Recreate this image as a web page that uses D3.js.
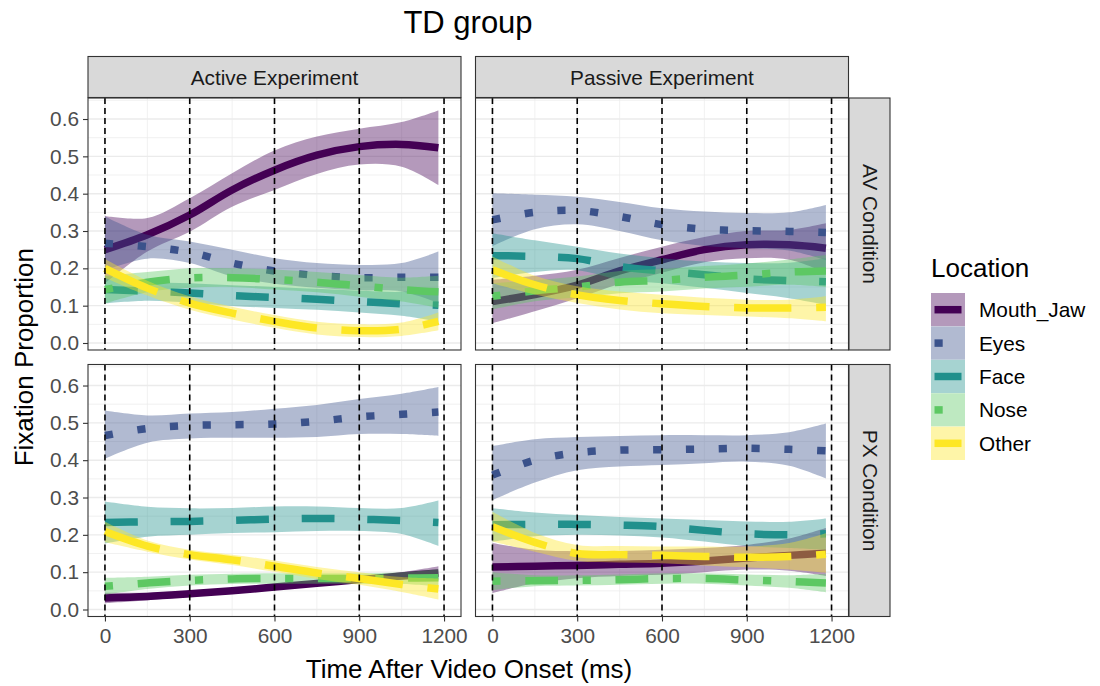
<!DOCTYPE html>
<html>
<head>
<meta charset="utf-8">
<script src="https://cdn.jsdelivr.net/npm/d3@7"></script>
<style>
  body { margin: 0; background: #fff; }
  text { font-family: "Liberation Sans", Arial, sans-serif; }
</style>
</head>
<body>
<div id="chart"></div>
<script>
// time points the smooths were read at (ms)
var times = [0, 150, 300, 450, 600, 750, 900, 1050, 1180];
var locations = ["Mouth_Jaw", "Eyes", "Face", "Nose", "Other"];
var experiments = ["Active Experiment", "Passive Experiment"];
var conditions = ["AV Condition", "PX Condition"];
var locColors = ["#440154", "#3B528B", "#21908C", "#5DC863", "#FDE725"];
var locDash = ["solid", "dotted", "dashed", "dotdash", "longdash"];
var xTicks = [0, 300, 600, 900, 1200];
var yTicks = [0, 0.1, 0.2, 0.3, 0.4, 0.5, 0.6];
var vlineTimes = [0, 300, 600, 900, 1200];

// rows follow `locations`
var fitAVActive = [
  [0.25, 0.29, 0.343, 0.41, 0.463, 0.503, 0.526, 0.532, 0.523],
  [0.267, 0.258, 0.243, 0.214, 0.193, 0.181, 0.175, 0.176, 0.176],
  [0.143, 0.139, 0.134, 0.127, 0.122, 0.117, 0.111, 0.105, 0.101],
  [0.143, 0.163, 0.174, 0.175, 0.17, 0.163, 0.153, 0.143, 0.137],
  [0.2, 0.147, 0.107, 0.08, 0.058, 0.04, 0.033, 0.037, 0.058]
];
var loAVActive = [
  [0.16, 0.245, 0.298, 0.365, 0.41, 0.453, 0.478, 0.472, 0.423],
  [0.195, 0.226, 0.214, 0.178, 0.159, 0.148, 0.141, 0.138, 0.107],
  [0.106, 0.113, 0.108, 0.099, 0.094, 0.089, 0.082, 0.073, 0.057],
  [0.106, 0.136, 0.148, 0.15, 0.143, 0.136, 0.124, 0.111, 0.094],
  [0.175, 0.127, 0.089, 0.063, 0.041, 0.023, 0.016, 0.019, 0.034]
];
var hiAVActive = [
  [0.34, 0.335, 0.388, 0.455, 0.516, 0.553, 0.574, 0.592, 0.623],
  [0.339, 0.29, 0.272, 0.25, 0.227, 0.214, 0.209, 0.214, 0.245],
  [0.18, 0.165, 0.16, 0.155, 0.15, 0.145, 0.14, 0.137, 0.145],
  [0.18, 0.19, 0.2, 0.2, 0.197, 0.19, 0.182, 0.175, 0.18],
  [0.225, 0.167, 0.125, 0.097, 0.075, 0.057, 0.05, 0.055, 0.082]
];

var fitAVPassive = [
  [0.111, 0.13, 0.155, 0.193, 0.223, 0.25, 0.263, 0.263, 0.254],
  [0.33, 0.35, 0.355, 0.339, 0.317, 0.305, 0.301, 0.299, 0.296],
  [0.234, 0.232, 0.226, 0.205, 0.193, 0.183, 0.172, 0.167, 0.164],
  [0.125, 0.14, 0.15, 0.163, 0.168, 0.176, 0.182, 0.19, 0.193],
  [0.196, 0.156, 0.129, 0.114, 0.105, 0.098, 0.094, 0.094, 0.096]
];
var loAVPassive = [
  [0.053, 0.085, 0.12, 0.158, 0.188, 0.216, 0.227, 0.223, 0.188],
  [0.26, 0.305, 0.318, 0.3, 0.275, 0.26, 0.254, 0.248, 0.222],
  [0.174, 0.19, 0.195, 0.17, 0.16, 0.148, 0.134, 0.12, 0.102],
  [0.09, 0.112, 0.122, 0.133, 0.138, 0.146, 0.151, 0.156, 0.15],
  [0.16, 0.13, 0.107, 0.09, 0.08, 0.075, 0.071, 0.066, 0.058]
];
var hiAVPassive = [
  [0.169, 0.18, 0.196, 0.228, 0.258, 0.284, 0.3, 0.303, 0.321],
  [0.401, 0.397, 0.392, 0.378, 0.361, 0.352, 0.348, 0.35, 0.37],
  [0.294, 0.275, 0.258, 0.24, 0.227, 0.218, 0.214, 0.215, 0.227],
  [0.16, 0.168, 0.178, 0.193, 0.198, 0.206, 0.213, 0.224, 0.236],
  [0.232, 0.18, 0.152, 0.138, 0.129, 0.121, 0.116, 0.116, 0.125]
];

var fitPXActive = [
  [0.031, 0.035, 0.042, 0.05, 0.06, 0.07, 0.08, 0.09, 0.098],
  [0.466, 0.485, 0.493, 0.495, 0.497, 0.504, 0.516, 0.523, 0.529],
  [0.233, 0.235, 0.236, 0.239, 0.242, 0.244, 0.242, 0.238, 0.233],
  [0.062, 0.071, 0.078, 0.082, 0.083, 0.083, 0.083, 0.084, 0.085],
  [0.209, 0.17, 0.147, 0.133, 0.116, 0.098, 0.083, 0.067, 0.055]
];
var loPXActive = [
  [0.017, 0.025, 0.034, 0.042, 0.052, 0.062, 0.072, 0.08, 0.08],
  [0.404, 0.447, 0.458, 0.46, 0.46, 0.462, 0.47, 0.47, 0.465],
  [0.177, 0.195, 0.2, 0.205, 0.207, 0.21, 0.21, 0.202, 0.17],
  [0.04, 0.055, 0.064, 0.068, 0.069, 0.069, 0.069, 0.068, 0.062],
  [0.18, 0.155, 0.134, 0.119, 0.101, 0.082, 0.066, 0.047, 0.027]
];
var hiPXActive = [
  [0.045, 0.045, 0.05, 0.058, 0.068, 0.078, 0.088, 0.1, 0.116],
  [0.533, 0.52, 0.525, 0.529, 0.538, 0.548, 0.564, 0.578, 0.596],
  [0.289, 0.275, 0.271, 0.272, 0.276, 0.276, 0.272, 0.272, 0.292],
  [0.085, 0.088, 0.093, 0.096, 0.097, 0.097, 0.097, 0.1, 0.108],
  [0.235, 0.185, 0.16, 0.147, 0.131, 0.114, 0.1, 0.087, 0.083]
];

var fitPXPassive = [
  [0.114, 0.116, 0.118, 0.121, 0.124, 0.13, 0.138, 0.145, 0.151],
  [0.36, 0.4, 0.42, 0.427, 0.428, 0.43, 0.432, 0.429, 0.425],
  [0.227, 0.228, 0.228, 0.226, 0.222, 0.212, 0.203, 0.2, 0.203],
  [0.076, 0.077, 0.078, 0.08, 0.083, 0.083, 0.079, 0.075, 0.071],
  [0.222, 0.18, 0.15, 0.147, 0.145, 0.142, 0.14, 0.142, 0.148]
];
var loPXPassive = [
  [0.044, 0.07, 0.084, 0.09, 0.093, 0.1, 0.107, 0.104, 0.09],
  [0.293, 0.34, 0.373, 0.383, 0.387, 0.392, 0.396, 0.385, 0.351],
  [0.182, 0.196, 0.2, 0.198, 0.193, 0.182, 0.17, 0.165, 0.16],
  [0.052, 0.062, 0.064, 0.066, 0.069, 0.069, 0.064, 0.058, 0.046],
  [0.182, 0.155, 0.13, 0.126, 0.124, 0.118, 0.113, 0.107, 0.098]
];
var hiPXPassive = [
  [0.178, 0.16, 0.156, 0.157, 0.16, 0.165, 0.173, 0.19, 0.218],
  [0.438, 0.456, 0.462, 0.465, 0.467, 0.467, 0.467, 0.475, 0.498],
  [0.271, 0.26, 0.253, 0.248, 0.244, 0.24, 0.236, 0.235, 0.244],
  [0.1, 0.092, 0.092, 0.094, 0.097, 0.097, 0.094, 0.092, 0.096],
  [0.262, 0.205, 0.173, 0.17, 0.169, 0.169, 0.169, 0.178, 0.204]
];

var panels = [
  {row: 0, col: 0, fit: fitAVActive, lo: loAVActive, hi: hiAVActive},
  {row: 0, col: 1, fit: fitAVPassive, lo: loAVPassive, hi: hiAVPassive},
  {row: 1, col: 0, fit: fitPXActive, lo: loPXActive, hi: hiPXActive},
  {row: 1, col: 1, fit: fitPXPassive, lo: loPXPassive, hi: hiPXPassive}
];

var W = 1100, H = 686;
var pw = 373, ph = 252;
var panelX = [88, 475.5];
var panelY = [98, 364.5];
var stripH = 41;
var lw = 7.5, u = 8.2;
var dashes = {
  solid: null,
  dotted: [u, 3*u],
  dashed: [4*u, 4*u],
  dotdash: [u, 3*u, 4*u, 3*u],
  longdash: [7*u, 3*u, 7*u, 3*u]
};
var gray20 = "#333333";

var x = d3.scaleLinear().domain([-60, 1260]).range([0, pw]);
var y = d3.scaleLinear().domain([-0.01875, 0.6563]).range([ph, 0]);

var svg = d3.select("#chart").append("svg")
  .attr("width", W).attr("height", H);

var line = d3.line()
  .x(function(d){ return x(d.t); })
  .y(function(d){ return y(d.v); })
  .curve(d3.curveCatmullRom);
var area = d3.area()
  .x(function(d){ return x(d.t); })
  .y0(function(d){ return y(d.lo); })
  .y1(function(d){ return y(d.hi); })
  .curve(d3.curveCatmullRom);

panels.forEach(function(p, pi){
  var g = svg.append("g")
    .attr("transform", "translate(" + panelX[p.col] + "," + panelY[p.row] + ")");

  svg.append("clipPath").attr("id", "clip" + pi)
    .append("rect").attr("width", pw).attr("height", ph);

  // grid
  var minorX = [150, 450, 750, 1050];
  var minorY = [0.05, 0.15, 0.25, 0.35, 0.45, 0.55, 0.65];
  g.selectAll(".mx").data(minorX).join("line")
    .attr("x1", function(d){ return x(d); }).attr("x2", function(d){ return x(d); })
    .attr("y1", 0).attr("y2", ph)
    .attr("stroke", "#EBEBEB").attr("stroke-width", 0.7);
  g.selectAll(".my").data(minorY).join("line")
    .attr("y1", function(d){ return y(d); }).attr("y2", function(d){ return y(d); })
    .attr("x1", 0).attr("x2", pw)
    .attr("stroke", "#EBEBEB").attr("stroke-width", 0.7);
  g.selectAll(".gx").data(xTicks).join("line")
    .attr("x1", function(d){ return x(d); }).attr("x2", function(d){ return x(d); })
    .attr("y1", 0).attr("y2", ph)
    .attr("stroke", "#EBEBEB").attr("stroke-width", 1.4);
  g.selectAll(".gy").data(yTicks).join("line")
    .attr("y1", function(d){ return y(d); }).attr("y2", function(d){ return y(d); })
    .attr("x1", 0).attr("x2", pw)
    .attr("stroke", "#EBEBEB").attr("stroke-width", 1.4);

  var layer = g.append("g").attr("clip-path", "url(#clip" + pi + ")");

  locations.forEach(function(loc, li){
    var pts = times.map(function(t, k){
      return {t: t, v: p.fit[li][k], lo: p.lo[li][k], hi: p.hi[li][k]};
    });
    layer.append("path").datum(pts)
      .attr("d", area)
      .attr("fill", locColors[li]).attr("fill-opacity", 0.4);
    var dl = dashes[locDash[li]];
    layer.append("path").datum(pts)
      .attr("d", line)
      .attr("fill", "none")
      .attr("stroke", locColors[li])
      .attr("stroke-width", lw)
      .attr("stroke-dasharray", dl ? dl.join(",") : null);
  });

  // vertical reference lines
  g.selectAll(".vl").data(vlineTimes).join("line")
    .attr("x1", function(d){ return x(d); }).attr("x2", function(d){ return x(d); })
    .attr("y1", 0).attr("y2", ph)
    .attr("stroke", "#000").attr("stroke-width", 1.6)
    .attr("stroke-dasharray", "6,4");

  g.append("rect").attr("width", pw).attr("height", ph)
    .attr("fill", "none").attr("stroke", gray20).attr("stroke-width", 1.1);

  // axes on outer panels only
  if (p.col === 0) {
    var ay = g.append("g")
      .call(d3.axisLeft(y).tickValues(yTicks).tickFormat(d3.format(".1f")).tickSize(5).tickPadding(4));
    ay.select(".domain").remove();
    ay.selectAll("line").attr("stroke", gray20).attr("stroke-width", 1.1);
    ay.selectAll("text").attr("fill", "#4D4D4D").style("font-size", "20.8px")
      .style("font-family", "Liberation Sans, Arial, sans-serif");
  }
  if (p.row === 1) {
    var ax = g.append("g").attr("transform", "translate(0," + ph + ")")
      .call(d3.axisBottom(x).tickValues(xTicks).tickFormat(d3.format("d")).tickSize(5).tickPadding(7));
    ax.select(".domain").remove();
    ax.selectAll("line").attr("stroke", gray20).attr("stroke-width", 1.1);
    ax.selectAll("text").attr("fill", "#4D4D4D").style("font-size", "20.8px")
      .style("font-family", "Liberation Sans, Arial, sans-serif");
  }
});

// top strips
experiments.forEach(function(e, i){
  svg.append("rect")
    .attr("x", panelX[i]).attr("y", panelY[0] - stripH - 0.5)
    .attr("width", pw).attr("height", stripH)
    .attr("fill", "#D9D9D9").attr("stroke", gray20).attr("stroke-width", 1.1);
  svg.append("text")
    .attr("x", panelX[i] + pw / 2).attr("y", panelY[0] - stripH / 2 + 7)
    .attr("text-anchor", "middle").attr("fill", "#1A1A1A")
    .style("font-size", "20.8px").text(e);
});

// right strips
conditions.forEach(function(c, i){
  var sx = panelX[1] + pw + 0.5;
  svg.append("rect")
    .attr("x", sx).attr("y", panelY[i])
    .attr("width", stripH).attr("height", ph)
    .attr("fill", "#D9D9D9").attr("stroke", gray20).attr("stroke-width", 1.1);
  svg.append("text")
    .attr("transform", "translate(" + (sx + stripH / 2 - 7) + "," + (panelY[i] + ph / 2) + ") rotate(90)")
    .attr("text-anchor", "middle").attr("fill", "#1A1A1A")
    .style("font-size", "20.8px").text(c);
});

// titles
svg.append("text").attr("x", 468).attr("y", 33)
  .attr("text-anchor", "middle").style("font-size", "31px").text("TD group");
svg.append("text").attr("x", 469).attr("y", 678)
  .attr("text-anchor", "middle").style("font-size", "26px").text("Time After Video Onset (ms)");
svg.append("text")
  .attr("transform", "translate(33," + ((panelY[0] + panelY[1] + ph) / 2) + ") rotate(-90)")
  .attr("text-anchor", "middle").style("font-size", "26px").text("Fixation Proportion");

// legend
var lg = svg.append("g").attr("transform", "translate(931,0)");
lg.append("text").attr("x", 0).attr("y", 277).style("font-size", "26px").text("Location");
var keyH = 33.4, keyW = 34, keyTop = 293;
locations.forEach(function(loc, li){
  var ky = keyTop + li * keyH;
  lg.append("rect").attr("x", 0).attr("y", ky).attr("width", keyW).attr("height", keyH)
    .attr("fill", "#fff");
  lg.append("rect").attr("x", 0).attr("y", ky).attr("width", keyW).attr("height", keyH)
    .attr("fill", locColors[li]).attr("fill-opacity", 0.4);
  var dl = dashes[locDash[li]];
  lg.append("line")
    .attr("x1", 3.5).attr("x2", keyW - 3.5)
    .attr("y1", ky + keyH / 2).attr("y2", ky + keyH / 2)
    .attr("stroke", locColors[li]).attr("stroke-width", lw)
    .attr("stroke-dasharray", dl ? dl.join(",") : null);
  lg.append("text").attr("x", 48).attr("y", ky + keyH / 2 + 7.5)
    .style("font-size", "20.8px").attr("fill", "#000").text(loc);
});
</script>
</body>
</html>
